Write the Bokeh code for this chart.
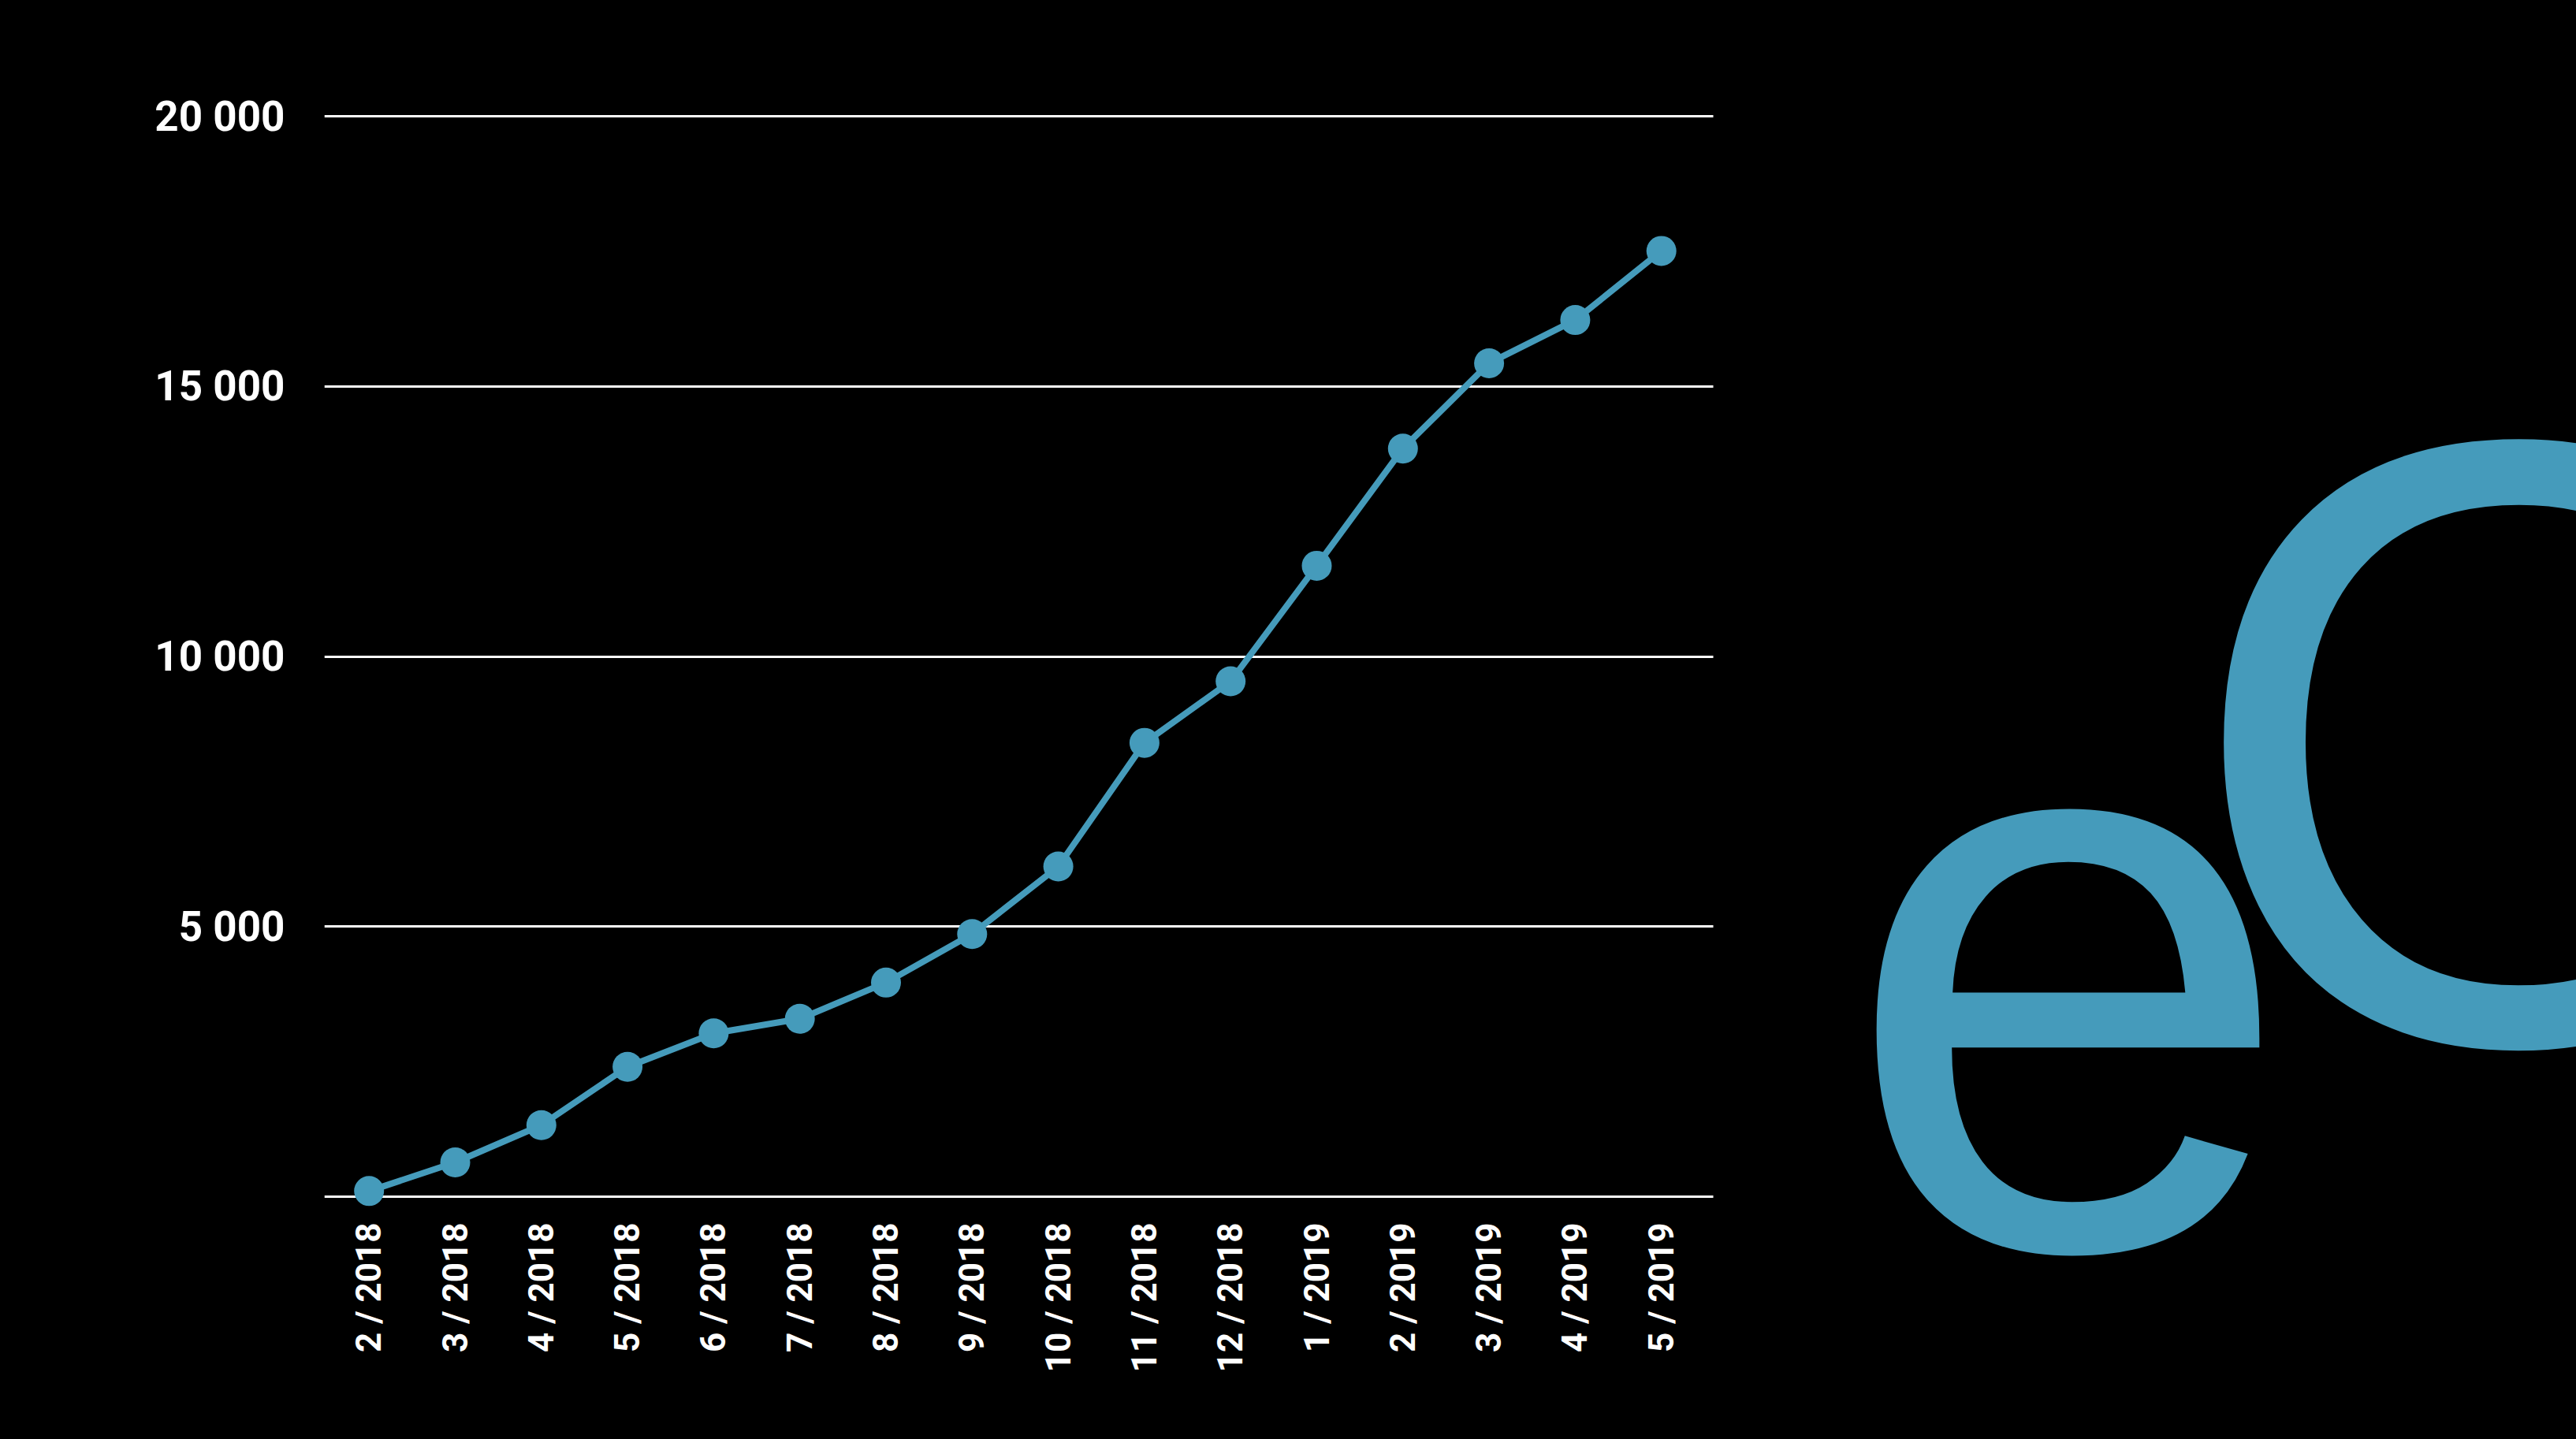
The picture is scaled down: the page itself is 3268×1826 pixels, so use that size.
import math
from bokeh.plotting import figure
from bokeh.models import Range1d, FixedTicker, GlobalInlineStyleSheet, Label
from bokeh.embed import file_html
from bokeh.resources import INLINE

# ---------------- data ----------------
months = ["2 / 2018", "3 / 2018", "4 / 2018", "5 / 2018", "6 / 2018", "7 / 2018",
          "8 / 2018", "9 / 2018", "10 / 2018", "11 / 2018", "12 / 2018",
          "1 / 2019", "2 / 2019", "3 / 2019", "4 / 2019", "5 / 2019"]
counts = [100, 630, 1320, 2400, 3020, 3290, 3960, 4860, 6110, 8400, 9540,
          11680, 13850, 15430, 16230, 17510]
y_ticks = [0, 5000, 10000, 15000, 20000]
logo_letters = ["e", "O"]

# ---------------- style / layout ----------------
BLUE = "#459bbb"
W, H = 3268, 1826
BORDER_L = 411
FRAME_BOTTOM = 1650
BORDER_B = H - FRAME_BOTTOM
FRAME_W = W - BORDER_L
FRAME_H = FRAME_BOTTOM
STEP = 109.3                      # px per category
X0 = -56.7 / STEP
X1 = X0 + FRAME_W / STEP
GRID_END = X0 + (2173 - BORDER_L) / STEP
ZERO_PX = 1517.7
PX_PER_UNIT = 0.06852
Y1 = ZERO_PX / PX_PER_UNIT
Y0 = Y1 - FRAME_H / PX_PER_UNIT


def px_to_data(px, py):
    return X0 + (px - BORDER_L) / STEP, (ZERO_PX - py) / PX_PER_UNIT


p = figure(width=W, height=H, output_backend="svg", toolbar_location=None,
           x_range=Range1d(X0, X1), y_range=Range1d(Y0, Y1),
           min_border_left=BORDER_L, min_border_right=0, min_border_top=0,
           min_border_bottom=BORDER_B)
p.stylesheets = [GlobalInlineStyleSheet(css="html, body { background-color: #000000; }")]
p.background_fill_color = "black"
p.border_fill_color = "black"
p.outline_line_color = None

# grid
p.xgrid.grid_line_color = None
p.ygrid.ticker = FixedTicker(ticks=y_ticks)
p.ygrid.grid_line_color = "white"
p.ygrid.grid_line_width = 3
try:
    p.ygrid.cross_bounds = (X0, GRID_END)
except Exception:
    p.ygrid.grid_line_color = None
    p.segment(x0=[X0] * len(y_ticks), x1=[GRID_END] * len(y_ticks), y0=y_ticks, y1=y_ticks,
              line_color="white", line_width=3)

# axes
xa = p.xaxis[0]
xa.ticker = FixedTicker(ticks=list(range(len(months))))
xa.major_label_overrides = {i: m for i, m in enumerate(months)}
xa.major_label_orientation = math.pi / 2
xa.major_label_standoff = -105
xa.major_label_text_font = "Roboto"
xa.major_label_text_font_style = "bold"
xa.major_label_text_font_size = "44px"
xa.major_label_text_color = "white"
xa.axis_line_color = None
xa.major_tick_line_color = None
xa.minor_tick_line_color = None

ya = p.yaxis[0]
ya.ticker = FixedTicker(ticks=y_ticks)
ya.major_label_overrides = {t: ("" if t == 0 else f"{t:,}".replace(",", " ")) for t in y_ticks}
ya.major_label_standoff = 44
ya.major_label_text_font = "Roboto"
ya.major_label_text_font_style = "bold"
ya.major_label_text_font_size = "53px"
ya.major_label_text_color = "white"
ya.axis_line_color = None
ya.major_tick_line_color = None
ya.minor_tick_line_color = None

# series
xs = list(range(len(months)))
p.line(xs, counts, line_color=BLUE, line_width=8)
p.scatter(xs, counts, size=38, fill_color=BLUE, line_color=None)

# logo
logo_pos = [px_to_data(2624, 1219), px_to_data(3195, 942)]
logo_sizes = ["1035px", "1096px"]
for letter, (lx, ly), fs in zip(logo_letters, logo_pos, logo_sizes):
    p.add_layout(Label(x=lx, y=ly, text=letter, text_font="Liberation Sans",
                       text_font_style="normal", text_font_size=fs,
                       text_align="center", text_baseline="alphabetic",
                       text_color=BLUE))

open("out.html", "w").write(file_html(p, INLINE))
